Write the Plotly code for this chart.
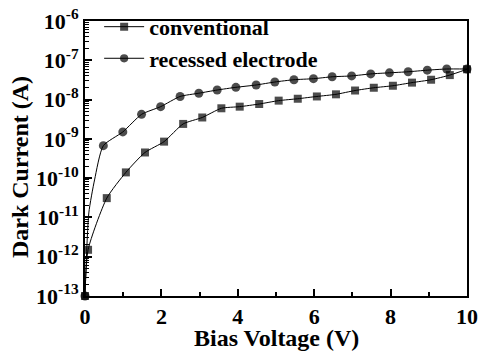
import plotly.graph_objects as go

# Data
conv_x = [0, 0.08, 0.57, 1.07, 1.57, 2.07, 2.57, 3.07, 3.57, 4.05, 4.56, 5.07, 5.57, 6.07, 6.57, 7.07, 7.56, 8.06, 8.56, 9.06, 9.55, 10]
conv_y = [1e-13, 1.5e-12, 3.1e-11, 1.4e-10, 4.5e-10, 8.5e-10, 2.4e-9, 3.5e-9, 6.0e-9, 6.6e-9, 7.7e-9, 9.4e-9, 1.05e-8, 1.2e-8, 1.36e-8, 1.7e-8, 2.0e-8, 2.25e-8, 2.7e-8, 3.2e-8, 4.2e-8, 5.9e-8]
conv_marked = [1, 1, 1, 1, 1, 1, 1, 1, 1, 1, 1, 1, 1, 1, 1, 1, 1, 1, 1, 1, 1, 1]

rec_x = [0, 0.1, 0.25, 0.48, 0.99, 1.48, 1.98, 2.49, 2.98, 3.46, 3.95, 4.48, 4.97, 5.47, 5.98, 6.47, 6.98, 7.48, 7.97, 8.46, 8.96, 9.47, 10]
rec_y = [1e-13, 1.3e-11, 9e-11, 6.7e-10, 1.5e-9, 4.2e-9, 6.6e-9, 1.2e-8, 1.45e-8, 1.75e-8, 2.05e-8, 2.35e-8, 2.8e-8, 3.2e-8, 3.4e-8, 3.8e-8, 4.0e-8, 4.5e-8, 4.8e-8, 5.1e-8, 5.6e-8, 6.0e-8, 6.0e-8]
rec_marked = [1, 0, 0, 1, 1, 1, 1, 1, 1, 1, 1, 1, 1, 1, 1, 1, 1, 1, 1, 1, 1, 1, 1]

series_names = ["conventional", "recessed electrode"]
y_exponents = [-13, -12, -11, -10, -9, -8, -7, -6]
x_ticks = [0, 2, 4, 6, 8, 10]
x_title = "Bias Voltage (V)"
y_title = "Dark Current (A)"

FONT = "Liberation Serif, Times New Roman, serif"

fig = go.Figure()
fig.add_trace(go.Scatter(
    x=conv_x, y=conv_y, name=series_names[0], mode="lines+markers", cliponaxis=False,
    line=dict(color="black", width=1, shape="spline", smoothing=0.6),
    marker=dict(symbol="square", color="black", size=[8 * m for m in conv_marked],
                line=dict(width=0)),
))
fig.add_trace(go.Scatter(
    x=rec_x, y=rec_y, name=series_names[1], mode="lines+markers", cliponaxis=False,
    line=dict(color="black", width=1, shape="spline", smoothing=0.6),
    marker=dict(symbol="circle", color="black", size=[9 * m for m in rec_marked],
                line=dict(width=0)),
))

major_vals = [10.0 ** e for e in y_exponents]
major_text = ["10<sup>%d</sup>" % e for e in y_exponents]
minor_vals = [k * 10.0 ** e for e in y_exponents[:-1] for k in range(2, 10)]

fig.update_layout(
    width=478, height=354,
    margin=dict(l=85, r=11, t=21, b=58, autoexpand=False),
    paper_bgcolor="white", plot_bgcolor="white",
    font=dict(family=FONT, color="black", size=20, weight="bold"),
    showlegend=True,
    legend=dict(
        x=0.037, y=1.055, xanchor="left", yanchor="top",
        bgcolor="rgba(0,0,0,0)", borderwidth=0,
        font=dict(family=FONT, size=22, color="black", weight="bold"),
        itemwidth=40, tracegroupgap=0,
    ),
    xaxis=dict(
        range=[0, 10], showgrid=False, zeroline=False, automargin=False,
        showline=True, linecolor="black", linewidth=2, mirror=True,
        ticks="inside", ticklen=7, tickwidth=1.5, tickcolor="black",
        tickvals=x_ticks, ticktext=[str(v) for v in x_ticks],
        tickfont=dict(family=FONT, size=22, color="black", weight="bold"),
        minor=dict(ticks="inside", ticklen=4, tickwidth=1.5, tickcolor="black",
                   tickvals=[1, 3, 5, 7, 9]),
    ),
    yaxis=dict(
        type="log", range=[-13, -6], showgrid=False, zeroline=False, automargin=False,
        showline=True, linecolor="black", linewidth=2, mirror=True,
        ticks="inside", ticklen=7, tickwidth=1.5, tickcolor="black",
        tickvals=major_vals, ticktext=major_text,
        tickfont=dict(family=FONT, size=22, color="black", weight="bold"),
        minor=dict(ticks="inside", ticklen=4, tickwidth=1, tickcolor="black",
                   tickvals=minor_vals),
    ),
    annotations=[
        dict(text=y_title, textangle=-90, xref="paper", yref="paper",
             x=-0.17, y=0.469, xanchor="center", yanchor="middle", showarrow=False,
             font=dict(family=FONT, size=24, color="black", weight="bold")),
        dict(text=x_title, xref="paper", yref="paper",
             x=0.5, y=-0.153, xanchor="center", yanchor="middle", showarrow=False,
             font=dict(family=FONT, size=24, color="black", weight="bold")),
    ],
)

fig.write_html("out.html", config={"displayModeBar": False},
               post_script="document.body.style.margin='0';document.body.style.padding='0';")
